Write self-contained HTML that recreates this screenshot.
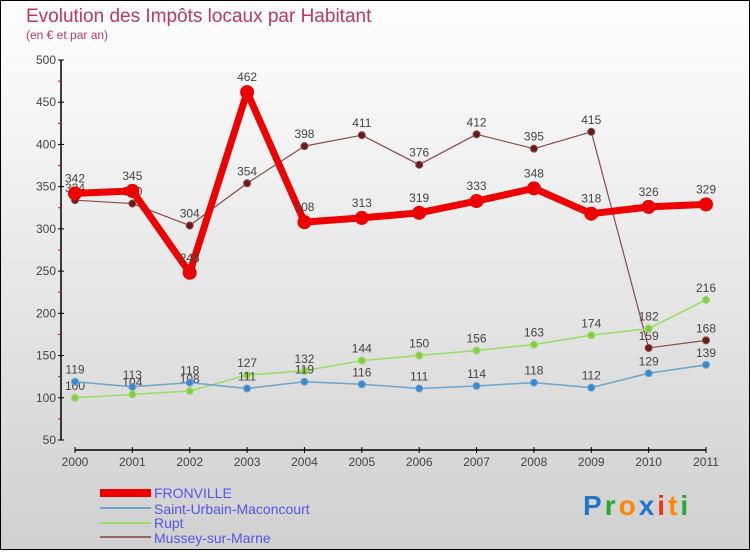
<!DOCTYPE html>
<html><head><meta charset="utf-8">
<style>
html,body{margin:0;padding:0}
body{width:750px;height:550px;overflow:hidden;font-family:"Liberation Sans",sans-serif}
svg text{font-family:"Liberation Sans",sans-serif}
</style></head>
<body>
<svg id="chart" width="750" height="550" xmlns="http://www.w3.org/2000/svg">
<defs>
<linearGradient id="bg" x1="0" y1="0" x2="0" y2="1">
<stop offset="0" stop-color="#ffffff"/><stop offset="1" stop-color="#d0d0d0"/>
</linearGradient>
</defs>
<rect x="0.5" y="0.5" width="749" height="549" fill="url(#bg)" stroke="#000"/>
<text x="26" y="22" font-size="19" fill="#c0365f">Evolution des Impôts locaux par Habitant</text>
<text x="26" y="39" font-size="12" fill="#c0365f">(en € et par an)</text>
<g id="axes"></g>
<g id="series"></g>
<g>
<rect x="100" y="489" width="51" height="8" fill="#ee0000"/>
<text x="154" y="498" font-size="14" fill="#5555ee">FRONVILLE</text>
<line x1="100" y1="508" x2="151" y2="508" stroke="#6fa4cc" stroke-width="2"/>
<text x="154" y="514" font-size="14" fill="#5555ee">Saint-Urbain-Maconcourt</text>
<line x1="100" y1="523" x2="151" y2="523" stroke="#99dd66" stroke-width="2"/>
<text x="154" y="528" font-size="14" fill="#5555ee">Rupt</text>
<line x1="100" y1="537" x2="151" y2="537" stroke="#996666" stroke-width="2"/>
<text x="154" y="543" font-size="14" fill="#5555ee">Mussey-sur-Marne</text>
</g>
<g font-size="28" font-weight="bold">
<text x="583" y="515" letter-spacing="3"><tspan fill="#2277cc">P</tspan><tspan fill="#22aa33">r</tspan><tspan fill="#ff8800">o</tspan><tspan fill="#2277cc">x</tspan><tspan fill="#ee3311">i</tspan><tspan fill="#ff8800">t</tspan><tspan fill="#22aa33">i</tspan></text>
</g>
</svg>
<script>
const years=["2000","2001","2002","2003","2004","2005","2006","2007","2008","2009","2010","2011"];
const fronville=[342,345,248,462,308,313,319,333,348,318,326,329];
const saintUrbain=[119,113,118,111,119,116,111,114,118,112,129,139];
const rupt=[100,104,108,127,132,144,150,156,163,174,182,216];
const mussey=[334,330,304,354,398,411,376,412,395,415,159,168];
const yTicks=[50,100,150,200,250,300,350,400,450,500];

const NS="http://www.w3.org/2000/svg";
const x=i=>75+i*(706-75)/11;
const y=v=>440-(v-50)*(380/450);
function mk(tag,attrs,parent){const e=document.createElementNS(NS,tag);for(const k in attrs)e.setAttribute(k,attrs[k]);parent.appendChild(e);return e;}
const axes=document.getElementById('axes'), ser=document.getElementById('series');

let yl=mk('line',{x1:61,y1:60,x2:61,y2:440,stroke:'#000','stroke-width':1.5},axes);


yTicks.forEach(v=>{
  const t=mk('line',{x1:58,y1:y(v),x2:64,y2:y(v),stroke:'#000'},axes);
  
  
  const l=mk('text',{x:56,y:y(v)+4,'font-size':12,'text-anchor':'end',fill:'#444'},axes);
  l.textContent=v;
  
  
  if(v<500){const m=mk('line',{x1:58,y1:y(v+25),x2:61,y2:y(v+25),stroke:'#e00'},axes);
  
  }
});
let xl=mk('line',{x1:75,y1:450,x2:706,y2:450,stroke:'#000','stroke-width':1.5},axes);


years.forEach((yr,i)=>{
  const t=mk('line',{x1:x(i),y1:447,x2:x(i),y2:453,stroke:'#000'},axes);
  
  
  const l=mk('text',{x:x(i),y:466,'font-size':12,'text-anchor':'middle',fill:'#444'},axes);
  l.textContent=yr;
  
  
});

function series(name,data,color,dot,w,r){
  const g=mk('g',{},ser);
  
  
  const p=mk('polyline',{points:data.map((v,i)=>x(i)+','+y(v)).join(' '),fill:'none',stroke:color,'stroke-width':w,'stroke-linejoin':'round'},g);
  
  
  data.forEach((v,i)=>{
    const c=mk('circle',{cx:x(i),cy:y(v),r:r,fill:dot,stroke:color,'stroke-width':1},g);
    
    
    const t=mk('text',{x:x(i),y:y(v)-8-(r>5?3:0),'font-size':12,'text-anchor':'middle',fill:'#444'},g);
    t.textContent=v;
    
    
  });
}
series('mussey',mussey,'#8b4a4a','#6b1a1a',1.2,3.5);
series('rupt',rupt,'#99dd66','#88cc44',1.5,3.5);
series('saint-urbain',saintUrbain,'#6fa4cc','#3b88cc',1.5,3.5);
series('fronville',fronville,'#ee0000','#ee0000',7,6.5);
</script>
</body></html>
